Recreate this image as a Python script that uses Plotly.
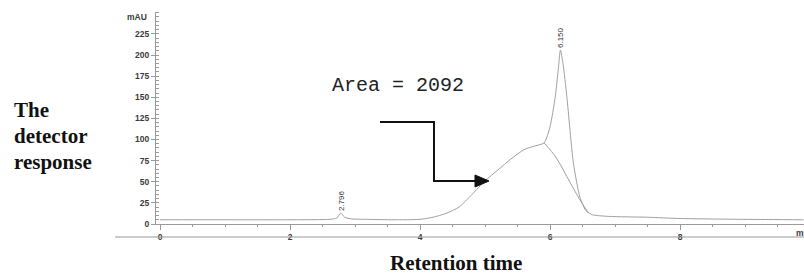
import plotly.graph_objects as go

# Chromatogram signal (retention time in min, detector response in mAU)
time_min = [0.0, 1.0, 2.0, 2.6, 2.72, 2.78, 2.84, 2.95, 3.2, 3.6, 4.0, 4.2, 4.4, 4.6, 4.8,
            5.0, 5.2, 5.4, 5.6, 5.75, 5.91, 6.0, 6.08, 6.13, 6.16, 6.2, 6.26, 6.36, 6.46,
            6.55, 6.65, 6.9, 7.5, 8.0, 9.0, 9.9]
signal_mau = [5, 5, 5, 5.5, 7, 13, 8, 6, 5.5, 5, 5.5, 8, 12.5, 20, 35,
              51, 64, 77, 88, 92, 96, 115, 150, 185, 206, 190, 150, 72, 32,
              16, 11, 9, 8, 6.5, 5.5, 5]

# Deconvolution (drop) line of the broad peak under the sharp peak
tail_time = [5.91, 6.1, 6.26, 6.45, 6.59]
tail_mau = [96, 78, 56, 30, 13]

# Peak labels
peak_times = [2.796, 6.150]
peak_labels = ["2.796", "6.150"]
peak_label_mau = [28, 221]

x_ticks = [0, 2, 4, 6, 8]
y_ticks = [0, 25, 50, 75, 100, 125, 150, 175, 200, 225]

W, H = 804, 275
L, R, T, B = 156, 0, 12, 51
PW, PH = W - L - R, H - T - B
X0_PX = 160          # pixel column of t = 0
PX_PER_MIN = 65.0
PX_PER_MAU = 0.845


def px(xp):
    return (xp - L) / PW


def py(yp):
    return (H - B - yp) / PH


line_col = "#a0a0a0"
axis_col = "#9a9a9a"
tick_font = dict(family="Liberation Sans", size=8.5, color="#3a3a3a", weight="bold")

fig = go.Figure()
fig.add_trace(go.Scatter(x=time_min, y=signal_mau, mode="lines",
                         line=dict(color=line_col, width=1, shape="spline", smoothing=0.6),
                         hoverinfo="skip", showlegend=False))
fig.add_trace(go.Scatter(x=tail_time, y=tail_mau, mode="lines",
                         line=dict(color=line_col, width=1, shape="spline"),
                         hoverinfo="skip", showlegend=False))

annotations = []
for t, lab, yv in zip(peak_times, peak_labels, peak_label_mau):
    annotations.append(dict(x=t, y=yv, xref="x", yref="y", text=lab, showarrow=False,
                            textangle=-90, font=dict(family="Liberation Sans", size=8, color="#333"),
                            xanchor="center", yanchor="middle"))

annotations.append(dict(x=px(149), y=py(17), xref="paper", yref="paper", text="mAU",
                        showarrow=False, xanchor="right", yanchor="middle",
                        font=tick_font))
annotations.append(dict(x=px(794), y=py(233), xref="paper", yref="paper", text="min",
                        showarrow=False, xanchor="left", yanchor="middle",
                        font=tick_font))
annotations.append(dict(x=px(330), y=py(85), xref="paper", yref="paper", text="Area = 2092",
                        showarrow=False, xanchor="left", yanchor="middle",
                        font=dict(family="Liberation Mono", size=20, color="#222")))
for txt, yp in [("The", 110), ("detector", 136), ("response", 162)]:
    annotations.append(dict(x=px(12), y=py(yp), xref="paper", yref="paper", text="<b>%s</b>" % txt,
                            showarrow=False, xanchor="left", yanchor="middle",
                            font=dict(family="Liberation Serif", size=21, color="#111")))
annotations.append(dict(x=px(456), y=py(263), xref="paper", yref="paper", text="<b>Retention time</b>",
                        showarrow=False, xanchor="center", yanchor="middle",
                        font=dict(family="Liberation Serif", size=21, color="#111")))

shapes = [
    # bottom frame line
    dict(type="line", xref="paper", yref="paper", x0=px(115), x1=px(804), y0=py(237), y1=py(237),
         line=dict(color=axis_col, width=1.2)),
    # arrow body
    dict(type="path", xref="paper", yref="paper",
         path="M %f %f L %f %f L %f %f L %f %f" % (px(380), py(122), px(434), py(122),
                                                  px(434), py(181), px(477), py(181)),
         line=dict(color="#111", width=2)),
    # arrow head
    dict(type="path", xref="paper", yref="paper",
         path="M %f %f L %f %f L %f %f Z" % (px(475), py(175), px(489), py(181), px(475), py(187)),
         fillcolor="#111", line=dict(color="#111", width=1)),
]

x_start = -(X0_PX - L) / PX_PER_MIN
fig.update_layout(
    width=W, height=H, margin=dict(l=L, r=R, t=T, b=B, pad=0),
    paper_bgcolor="white", plot_bgcolor="white",
    showlegend=False, annotations=annotations, shapes=shapes,
    xaxis=dict(range=[x_start, x_start + PW / PX_PER_MIN], tickvals=x_ticks,
               ticktext=[str(v) for v in x_ticks],
               showline=True, linecolor=axis_col, linewidth=1.2, showgrid=False, zeroline=False,
               ticks="outside", ticklen=5, tickcolor=axis_col,
               minor=dict(tickvals=[0.5, 1, 1.5, 2.5, 3, 3.5, 4.5, 5, 5.5, 6.5, 7, 7.5, 8.5, 9, 9.5],
                          ticks="outside", ticklen=2, tickcolor=axis_col),
               tickfont=tick_font),
    yaxis=dict(range=[0, PH / PX_PER_MAU], tickvals=y_ticks, ticktext=[str(v) for v in y_ticks],
               showline=True, linecolor=axis_col, linewidth=1.2, showgrid=False, zeroline=False,
               ticks="outside", ticklen=4, tickcolor=axis_col,
               minor=dict(dtick=5, ticks="inside", ticklen=3, tickcolor=axis_col),
               tickfont=tick_font),
)

fig.write_html("out.html", config={"displayModeBar": False},
               post_script="document.body.style.margin='0';document.body.style.padding='0';"
                           "document.body.style.overflow='hidden';")
